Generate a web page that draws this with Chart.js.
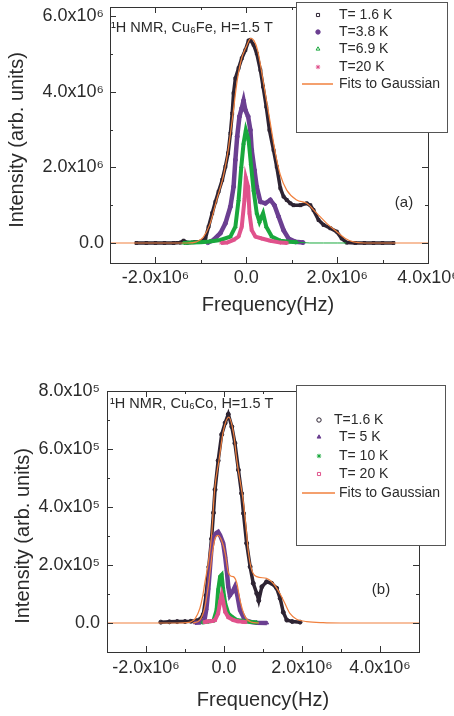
<!DOCTYPE html>
<html>
<head>
<meta charset="utf-8">
<script src="https://cdn.jsdelivr.net/npm/chart.js@4.4.1/dist/chart.umd.min.js"></script>
<style>
  html, body { margin: 0; padding: 0; background: #fff; overflow: hidden; width: 454px; height: 716px; }
  .panel { position: absolute; left: 0; width: 480px; }
  #wrapA { top: 0; height: 340px; }
  #wrapB { top: 360px; height: 356px; }
</style>
</head>
<body>
<div class="panel" id="wrapA"><canvas id="chartA"></canvas></div>
<div class="panel" id="wrapB"><canvas id="chartB"></canvas></div>
<script>
// ---- panel (a) Cu6Fe : frequency in 1e6 Hz, intensity in 1e6 ----
const freqA_16 = [-2.42,-2.2,-2.0,-1.8,-1.6,-1.45,-1.38,-1.3,-1.15,-1.0,-0.9,-0.83,-0.75,-0.68,-0.61,-0.53,-0.46,-0.40,-0.35,-0.31,-0.28,-0.24,-0.17,-0.10,-0.02,0.05,0.09,0.16,0.23,0.31,0.37,0.44,0.51,0.60,0.67,0.75,0.82,0.89,0.97,1.04,1.19,1.33,1.41,1.48,1.59,1.70,1.85,1.99,2.10,2.21,2.4,2.6,2.8,3.0,3.24];
const intA_16  = [0,0,0,0,0,0.01,0.06,0.01,0.02,0.04,0.12,0.43,0.79,1.09,1.36,1.67,2.02,2.38,2.9,3.43,3.97,4.36,4.63,4.89,5.11,5.36,5.38,5.25,5.02,4.58,4.14,3.61,2.99,2.46,2.02,1.45,1.23,1.14,1.05,1.0,1.0,1.05,1.0,0.87,0.61,0.48,0.39,0.30,0.12,0.01,0,0,0,0,0];
const freqA_38 = [-0.85,-0.72,-0.57,-0.46,-0.35,-0.28,-0.24,-0.20,-0.15,-0.10,-0.06,-0.02,0.04,0.09,0.12,0.18,0.23,0.31,0.42,0.53,0.62,0.71,0.82,0.93,1.08,1.25];
const intA_38  = [0.01,0.08,0.26,0.52,0.96,1.49,2.2,2.82,3.35,3.57,3.77,3.52,3.35,2.99,2.46,1.93,1.49,1.09,1.05,1.14,1.0,0.70,0.34,0.12,0.03,0.01];
const freqA_69 = [-1.38,-1.2,-1.0,-0.8,-0.57,-0.35,-0.24,-0.17,-0.11,-0.06,-0.01,0.05,0.10,0.16,0.23,0.29,0.37,0.44,0.56,0.75,0.95,1.11,1.4,1.7,2.0,2.2];
const intA_69  = [0,0.01,0.02,0.04,0.08,0.17,0.43,1.14,2.02,2.64,2.99,2.73,2.11,1.40,0.79,0.56,0.79,0.43,0.17,0.06,0.03,0.02,0,0,0,0];
const freqA_20 = [-0.55,-0.42,-0.28,-0.17,-0.10,-0.04,-0.01,0.04,0.07,0.12,0.20,0.34,0.53,0.75,0.9];
const intA_20  = [0,0.01,0.08,0.17,0.43,1.14,1.72,1.49,0.79,0.34,0.17,0.12,0.06,0.01,0];
const fitFreqA = [-3.0,-2.0,-1.3,-1.1,-0.95,-0.8,-0.65,-0.5,-0.4,-0.3,-0.2,-0.1,0.0,0.1,0.17,0.25,0.38,0.53,0.64,0.75,0.89,1.11,1.33,1.55,1.77,1.99,2.18,2.36,2.6,3.0,4.0];
const fitIntA  = [0,0,0,0.03,0.15,0.5,1.15,1.8,2.45,3.35,4.3,4.9,5.2,5.42,5.36,5.1,4.23,3.17,2.38,1.8,1.4,1.14,1.05,0.79,0.52,0.30,0.12,0.03,0,0,0];

// ---- panel (b) Cu6Co : frequency in 1e6 Hz, intensity in 1e5 ----
const freqB_16 = [-1.62,-1.4,-1.2,-1.0,-0.85,-0.70,-0.62,-0.53,-0.46,-0.39,-0.32,-0.27,-0.23,-0.15,-0.06,0.03,0.11,0.20,0.28,0.37,0.45,0.50,0.58,0.67,0.75,0.84,0.89,0.97,1.09,1.22,1.35,1.44,1.52,1.61,1.75,1.95];
const intB_16  = [0.03,0.04,0.05,0.05,0.06,0.08,0.12,0.3,0.95,1.93,2.9,3.8,4.6,5.6,6.5,6.9,7.2,6.77,6.2,5.28,4.47,3.78,2.75,1.94,1.37,1.02,0.77,1.25,1.42,1.37,1.2,0.85,0.37,0.1,0.05,0.03];
const freqB_5  = [-0.75,-0.62,-0.5,-0.45,-0.4,-0.36,-0.32,-0.27,-0.2,-0.15,-0.10,-0.02,0.03,0.07,0.11,0.15,0.22,0.28,0.34,0.41,0.54,0.7,0.84,1.1];
const intB_5   = [0.01,0.02,0.1,0.5,1.2,1.9,2.6,2.95,3.1,3.14,3.03,2.75,2.29,1.83,1.25,0.95,1.08,1.25,0.97,0.45,0.1,0.03,0.01,0];
const freqB_10 = [-0.55,-0.4,-0.27,-0.19,-0.15,-0.10,-0.06,-0.02,0.03,0.11,0.20,0.33,0.45,0.58,0.84];
const intB_10  = [0.02,0.05,0.08,0.45,1.14,1.6,1.66,1.14,0.68,0.33,0.22,0.1,0.08,0.05,0.02];
const freqB_20 = [-0.5,-0.44,-0.3,-0.23,-0.15,-0.10,-0.06,-0.02,0.03,0.11,0.24,0.35,0.49,0.55];
const intB_20  = [0.03,0.05,0.07,0.1,0.33,0.73,0.97,0.73,0.39,0.2,0.1,0.06,0.04,0.03];
const fitFreqB = [-3,-2,-1.2,-0.95,-0.85,-0.74,-0.62,-0.55,-0.49,-0.40,-0.32,-0.24,-0.13,-0.02,0.12,0.25,0.33,0.5,0.58,0.62,0.71,0.84,1.09,1.26,1.44,1.56,1.69,1.86,2.12,2.54,3,5];
const fitIntB  = [0,0,0,0.01,0.04,0.15,0.5,0.9,1.4,2.1,3.0,4.6,5.6,6.6,7.1,6.5,5.6,4.13,3.09,2.5,1.83,1.6,1.54,1.37,1.0,0.68,0.33,0.13,0.05,0.01,0,0];
const fitFreqB5 = [-0.8,-0.62,-0.5,-0.4,-0.3,-0.22,-0.15,-0.05,0.03,0.11,0.17,0.24,0.33,0.41,0.54,0.7,0.9];
const fitIntB5  = [0,0.1,0.5,1.3,2.4,2.95,3.02,2.8,2.4,1.75,1.62,1.6,1.37,0.79,0.22,0.03,0];

// ---- ticks ----
const xTicksA = [-2e6, 0, 2e6, 4e6];
const xTickLabelsA = ['-2.0x10⁶', '0.0', '2.0x10⁶', '4.0x10⁶'];
const xMinorA = [-3e6, -1e6, 1e6, 3e6];
const yTicksA = [0, 2e6, 4e6, 6e6];
const yTickLabelsA = ['0.0', '2.0x10⁶', '4.0x10⁶', '6.0x10⁶'];
const yMinorA = [1e6, 3e6, 5e6];
const xTicksB = [-2e6, 0, 2e6, 4e6];
const xTickLabelsB = ['-2.0x10⁶', '0.0', '2.0x10⁶', '4.0x10⁶'];
const xMinorB = [-3e6, -1e6, 1e6, 3e6, 5e6];
const yTicksB = [0, 2e5, 4e5, 6e5, 8e5];
const yTickLabelsB = ['0.0', '2.0x10⁵', '4.0x10⁵', '6.0x10⁵', '8.0x10⁵'];
const yMinorB = [-1e5, 1e5, 3e5, 5e5, 7e5];

const FONT = '"Liberation Sans", Arial, sans-serif';
const TXT = '#2b2b2b';
const BLACK = '#2e2433', PURPLE = '#6b3f91', GREEN = '#19a83d', PINK = '#e0528c', ORANGE = '#f0803e';

function pts(f, v, ys) {
  return f.map((x, i) => ({x: x * 1e6, y: v[i] * ys}));
}

function series(label, f, v, ys, color, style, legendFill, order, width) {
  return {
    label: label, data: pts(f, v, ys), showLine: true,
    borderColor: color, borderWidth: width, backgroundColor: legendFill,
    pointStyle: style, pointRadius: 2, pointBackgroundColor: color,
    pointBorderColor: color, pointBorderWidth: 1, order: order
  };
}

function fitLine(f, v, ys, hide) {
  return {
    label: 'Fits to Gaussian', data: pts(f, v, ys), showLine: true,
    borderColor: ORANGE, borderWidth: 1.2, pointRadius: 0,
    cubicInterpolationMode: 'monotone', order: 0, legendHide: hide
  };
}

// frame, inward ticks, axis titles, notes and the boxed legend
const decor = {
  id: 'decor',
  afterDraw(chart, args, o) {
    const ctx = chart.ctx, a = chart.chartArea, x = chart.scales.x, y = chart.scales.y;
    ctx.save();
    ctx.strokeStyle = '#333';
    ctx.lineWidth = 1;
    ctx.strokeRect(Math.round(a.left) + 0.5, Math.round(a.top) + 0.5, Math.round(a.right - a.left), Math.round(a.bottom - a.top));
    ctx.beginPath();
    const xt = (v, len) => {
      const p = Math.round(x.getPixelForValue(v)) + 0.5;
      ctx.moveTo(p, a.bottom); ctx.lineTo(p, a.bottom - len);
      ctx.moveTo(p, a.top); ctx.lineTo(p, a.top + len);
    };
    const yt = (v, len) => {
      const p = Math.round(y.getPixelForValue(v)) + 0.5;
      ctx.moveTo(a.left, p); ctx.lineTo(a.left + len, p);
      ctx.moveTo(a.right, p); ctx.lineTo(a.right - len, p);
    };
    o.xMajor.forEach(v => xt(v, 6));
    o.xMinor.forEach(v => xt(v, 3));
    o.yMajor.forEach(v => yt(v, 6));
    o.yMinor.forEach(v => yt(v, 3));
    ctx.stroke();

    ctx.fillStyle = TXT;
    ctx.textAlign = 'center';
    ctx.textBaseline = 'middle';
    ctx.font = '20px ' + FONT;
    ctx.fillText('Frequency(Hz)', o.xTitle[0], o.xTitle[1]);
    ctx.save();
    ctx.translate(o.yTitle[0], o.yTitle[1]);
    ctx.rotate(-Math.PI / 2);
    ctx.fillText('Intensity (arb. units)', 0, 0);
    ctx.restore();

    ctx.font = '15px ' + FONT;
    ctx.fillText(o.tag, o.tagPos[0], o.tagPos[1]);
    ctx.textAlign = 'left';
    ctx.textBaseline = 'alphabetic';
    ctx.font = '14.5px ' + FONT;
    ctx.fillText(o.note, o.notePos[0], o.notePos[1]);

    // legend
    const b = o.legendBox;
    ctx.fillStyle = '#fff';
    ctx.fillRect(b[0], b[1], b[2] - b[0], b[3] - b[1]);
    ctx.strokeStyle = '#555';
    ctx.strokeRect(b[0] + 0.5, b[1] + 0.5, b[2] - b[0], b[3] - b[1]);
    ctx.font = '14px ' + FONT;
    ctx.textBaseline = 'middle';
    let row = 0;
    chart.data.datasets.forEach(ds => {
      if (ds.legendHide) return;
      const ry = o.legendRows[row];
      if (ds.pointRadius === 0) {
        ctx.strokeStyle = ds.borderColor;
        ctx.lineWidth = 1.5;
        ctx.beginPath();
        ctx.moveTo(o.legendLine[0], ry); ctx.lineTo(o.legendLine[1], ry);
        ctx.stroke();
      } else {
        ctx.fillStyle = ds.backgroundColor;
        ctx.strokeStyle = ds.borderColor;
        ctx.lineWidth = 1;
        Chart.helpers.drawPoint(ctx, {pointStyle: ds.pointStyle, radius: 2.2, borderWidth: 1, rotation: 0}, o.legendMarkX, ry);
      }
      ctx.fillStyle = TXT;
      ctx.fillText(ds.label, o.legendTextX[row], ry);
      row++;
    });
    ctx.restore();
  }
};

function makeChart(id, c) {
  return new Chart(document.getElementById(id), {
    type: 'scatter',
    data: {datasets: c.datasets},
    options: {
      responsive: true,
      maintainAspectRatio: false,
      animation: false,
      layout: {padding: c.padding},
      plugins: {legend: {display: false}, tooltip: {enabled: false}, decor: c.decor},
      scales: {
        x: {
          type: 'linear', min: c.xMin, max: c.xMax,
          grid: {display: false, drawTicks: false}, border: {display: false},
          afterBuildTicks: s => { s.ticks = c.xTicks.map(v => ({value: v})); },
          afterFit: s => { s.height = c.xHeight; },
          ticks: {autoSkip: false, maxRotation: 0, padding: c.xPad, color: TXT,
                  font: {family: FONT, size: 18}, callback: (v, i) => c.xLabels[i]}
        },
        y: {
          type: 'linear', min: c.yMin, max: c.yMax,
          grid: {display: false, drawTicks: false}, border: {display: false},
          afterBuildTicks: s => { s.ticks = c.yTicks.map(v => ({value: v})); },
          afterFit: s => { s.width = c.yWidth; },
          ticks: {autoSkip: false, padding: c.yPad, color: TXT,
                  font: {family: FONT, size: 18, lineHeight: 0.05}, callback: (v, i) => c.yLabels[i]}
        }
      }
    },
    plugins: [decor]
  });
}

const greenA = series('T=6.9 K', freqA_69, intA_69, 1e6, GREEN, 'triangle', '#fff', 2, 4);
greenA.pointRadius = ctx => (ctx.raw && ctx.raw.x > 1.15e6) ? 0 : 2;
greenA.segment = {borderWidth: ctx => ctx.p0.parsed.x >= 1.1e6 ? 1 : undefined};

makeChart('chartA', {
  datasets: [
    series('T= 1.6 K', freqA_16, intA_16, 1e6, BLACK, 'rect', '#fff', 4, 3.5),
    series('T=3.8 K', freqA_38, intA_38, 1e6, PURPLE, 'circle', PURPLE, 3, 4.5),
    greenA,
    series('T=20 K', freqA_20, intA_20, 1e6, PINK, 'star', PINK, 1, 4),
    fitLine(fitFreqA, fitIntA, 1e6, false)
  ],
  padding: {top: 7, right: 52, bottom: 0, left: 0},
  xMin: -3e6, xMax: 4e6, yMin: -0.53e6, yMax: 6.25e6,
  xTicks: xTicksA, xLabels: xTickLabelsA, yTicks: yTicksA, yLabels: yTickLabelsA,
  xHeight: 77, yWidth: 110, xPad: 4, yPad: 6,
  decor: {
    xMajor: xTicksA, xMinor: xMinorA, yMajor: yTicksA, yMinor: yMinorA,
    xTitle: [268, 305], yTitle: [17, 140],
    note: '¹H NMR, Cu₆Fe, H=1.5 T', notePos: [111, 32],
    tag: '(a)', tagPos: [404, 203],
    legendBox: [296, 2, 447, 132], legendRows: [15, 32, 49, 67, 84],
    legendMarkX: 318, legendTextX: [339, 339, 339, 339, 339], legendLine: [302, 333]
  }
});

makeChart('chartB', {
  datasets: [
    series('T=1.6 K', freqB_16, intB_16, 1e5, BLACK, 'circle', '#fff', 4, 3.5),
    series('T= 5 K', freqB_5, intB_5, 1e5, PURPLE, 'triangle', PURPLE, 3, 4.5),
    series('T= 10 K', freqB_10, intB_10, 1e5, GREEN, 'star', GREEN, 2, 4),
    series('T= 20 K', freqB_20, intB_20, 1e5, PINK, 'rect', '#fff', 1, 4),
    fitLine(fitFreqB, fitIntB, 1e5, false),
    fitLine(fitFreqB5, fitIntB5, 1e5, true)
  ],
  padding: {top: 31, right: 61, bottom: 0, left: 0},
  xMin: -3e6, xMax: 5e6, yMin: -1e5, yMax: 8e5,
  xTicks: xTicksB, xLabels: xTickLabelsB, yTicks: yTicksB, yLabels: yTickLabelsB,
  xHeight: 64, yWidth: 107, xPad: 5, yPad: 7,
  decor: {
    xMajor: xTicksB, xMinor: xMinorB, yMajor: yTicksB, yMinor: yMinorB,
    xTitle: [263, 340], yTitle: [23, 176],
    note: '¹H NMR, Cu₆Co, H=1.5 T', notePos: [110, 48],
    tag: '(b)', tagPos: [381, 230],
    legendBox: [296, 25, 445, 185], legendRows: [60, 77, 96, 114, 133],
    legendMarkX: 319, legendTextX: [334, 339, 339, 339, 339], legendLine: [302, 335]
  }
});
</script>
</body>
</html>
